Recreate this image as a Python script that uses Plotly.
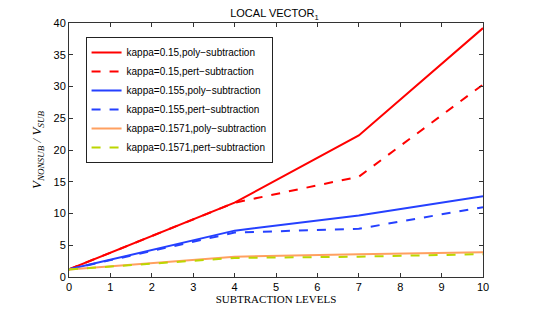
import plotly.graph_objects as go

levels = [0, 4, 7, 10]
k015_poly = [1.2, 11.7, 22.3, 39.2]
k015_pert = [1.2, 11.7, 15.8, 30.3]
k0155_poly = [1.2, 7.3, 9.7, 12.7]
k0155_pert = [1.2, 7.0, 7.6, 11.0]
k01571_poly = [1.2, 3.2, 3.6, 3.9]
k01571_pert = [1.2, 3.0, 3.2, 3.6]

names = ["kappa=0.15,poly\u2212subtraction", "kappa=0.15,pert\u2212subtraction",
         "kappa=0.155,poly\u2212subtraction", "kappa=0.155,pert\u2212subtraction",
         "kappa=0.1571,poly\u2212subtraction", "kappa=0.1571,pert\u2212subtraction"]
series = [k015_poly, k015_pert, k0155_poly, k0155_pert, k01571_poly, k01571_pert]
colors = ["#ff0000", "#ff0000", "#2540ff", "#2540ff", "#ffa060", "#bcd600"]
dashes = ["solid", "dash", "solid", "dash", "solid", "dash"]

fig = go.Figure()
for n, s, c, d in zip(names, series, colors, dashes):
    fig.add_trace(go.Scatter(x=levels, y=s, mode="lines", name=n,
                             line=dict(color=c, dash=d, width=2)))

fig.update_layout(
    width=533, height=312,
    margin=dict(l=61, r=58, t=15, b=43, autoexpand=False),
    paper_bgcolor="white", plot_bgcolor="white",
    font=dict(family="Liberation Sans, Arial", size=11, color="#000"),
    title=dict(text="LOCAL VECTOR<sub>1</sub>", x=0.5, xanchor="center",
               y=0.995, yanchor="top", font=dict(size=11)),
    showlegend=True,
    legend=dict(x=0.04, y=0.945, xanchor="left", yanchor="top",
                bordercolor="#222", borderwidth=1, bgcolor="white",
                font=dict(size=10), tracegroupgap=0, itemwidth=30),
    xaxis=dict(range=[0, 10], dtick=1, ticks="inside", ticklen=4, mirror="ticks",
               showline=True, linecolor="#333", linewidth=1, showgrid=False,
               zeroline=False, tickcolor="#333", automargin=False,
               title=dict(text="SUBTRACTION LEVELS", standoff=2,
                          font=dict(family="Liberation Serif, Times New Roman", size=11))),
    yaxis=dict(range=[0, 40], dtick=5, ticks="inside", ticklen=4, mirror="ticks",
               showline=True, linecolor="#333", linewidth=1, showgrid=False,
               zeroline=False, tickcolor="#333", automargin=False,
               title=dict(text="<i>V<sub>NONSUB</sub> / V<sub>SUB</sub></i>", standoff=8,
                          font=dict(family="Liberation Serif, Times New Roman", size=13))),
)

fig.write_html("out.html")
